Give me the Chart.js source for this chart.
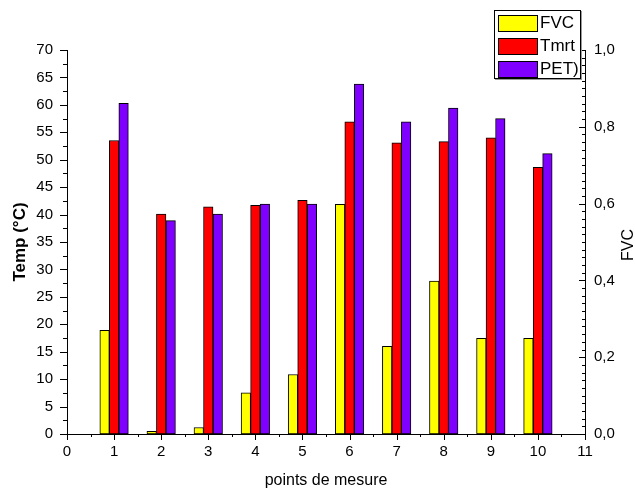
<!DOCTYPE html>
<html>
<head>
<meta charset="utf-8">
<script src="https://cdn.jsdelivr.net/npm/chart.js@4/dist/chart.umd.min.js"></script>
<style>
  html, body { margin: 0; padding: 0; background: #fff; }
  #wrap { position: relative; width: 635px; height: 491px; }
  canvas { display: block; }
  #legend {
    position: absolute; left: 494px; top: 10px; width: 85px; height: 67px;
    border: 1px solid #000; box-shadow: 1px 1px 0 #999; background: #fff;
    font: 17px "Liberation Sans", Arial, sans-serif; color: #000; overflow: hidden;
  }
  #legend .row { display: flex; align-items: center; height: 22px; margin-top: 1px; }
  #legend .sw { width: 38px; height: 15px; border: 1px solid #000; margin: 0 2px 0 3px; }
  #fvc-title {
    position: absolute; left: 628px; top: 245px; transform: translate(-50%, -50%) rotate(-90deg);
    font: 16px "Liberation Sans", Arial, sans-serif; color: #000; white-space: nowrap;
  }
</style>
</head>
<body>
<div id="wrap">
  <canvas id="c" width="635" height="491"></canvas>
  <div id="legend"></div>
  <div id="fvc-title">FVC</div>
</div>
<script>
// axis positions 0..11, measure points 1..10
const xLabels = ["0", "1", "2", "3", "4", "5", "6", "7", "8", "9", "10", "11"];
const points = [1, 2, 3, 4, 5, 6, 7, 8, 9, 10];
const fvc  = [0.270, 0.007, 0.017, 0.107, 0.155, 0.598, 0.228, 0.398, 0.249, 0.249];
const tmrt = [53.5, 40.1, 41.4, 41.7, 42.6, 56.9, 53.1, 53.3, 54.0, 48.6];
const pet  = [60.3, 38.9, 40.1, 41.9, 41.9, 63.8, 56.9, 59.4, 57.5, 51.1];

const FONT = "'Liberation Sans', Arial, sans-serif";

// spread a series over the 0..11 axis, nothing at 0 and 11
const toAxis = vals => xLabels.map(l => {
  const i = points.indexOf(Number(l));
  return i < 0 ? null : vals[i];
});

// Origin-style tick marks (major + minor)
const tickMarks = {
  id: "tickMarks",
  afterDraw(chart) {
    const { ctx, scales: { x, y, y1 } } = chart;
    ctx.save();
    ctx.strokeStyle = "#000";
    ctx.lineWidth = 1;
    ctx.beginPath();
    for (let i = 0; i <= 28; i++) {
      const py = Math.round(y.getPixelForValue(i * 2.5)) + 0.5;
      const len = i % 2 === 0 ? 7 : 4;
      ctx.moveTo(y.right - len, py); ctx.lineTo(y.right, py);
    }
    for (let i = 0; i <= 22; i++) {
      const px = Math.round(x.getPixelForValue(i / 2)) + 0.5;
      const len = i % 2 === 0 ? 6 : 3;
      ctx.moveTo(px, x.top); ctx.lineTo(px, x.top + len);
    }
    for (let i = 0; i <= 50; i++) {
      const py = Math.round(y1.getPixelForValue(i / 50)) + 0.5;
      const len = i % 10 === 0 ? 6 : 3;
      ctx.moveTo(y1.left - len, py); ctx.lineTo(y1.left, py);
    }
    ctx.stroke();
    ctx.restore();
  }
};

const chart = new Chart(document.getElementById("c"), {
  type: "bar",
  data: {
    labels: xLabels,
    datasets: [
      { label: "FVC", data: toAxis(fvc), yAxisID: "y1", backgroundColor: "#ffff00" },
      { label: "Tmrt", data: toAxis(tmrt), yAxisID: "y", backgroundColor: "#ff0000" },
      { label: "PET)", data: toAxis(pet), yAxisID: "y", backgroundColor: "#8000ff" },
    ],
  },
  options: {
    responsive: false,
    animation: false,
    devicePixelRatio: 1,
    layout: { padding: { top: 50, left: 0, right: 0, bottom: 0 } },
    datasets: { bar: { barThickness: 9.5, borderColor: "#000", borderWidth: 1, borderSkipped: false } },
    plugins: { legend: { display: false }, tooltip: { enabled: false } },
    scales: {
      x: {
        type: "category",
        offset: false,
        grid: { display: false, drawTicks: false },
        border: { display: true, color: "#000", width: 1 },
        ticks: { color: "#000", font: { family: FONT, size: 15 }, padding: 9, autoSkip: false, maxRotation: 0 },
        title: { display: true, text: "points de mesure", color: "#000", font: { family: FONT, size: 16 }, padding: { top: 0, bottom: 1 } },
        afterFit: s => { s.height = 57; },
      },
      y: {
        position: "left", min: 0, max: 70,
        grid: { display: false, drawTicks: false },
        border: { display: true, color: "#000", width: 1 },
        ticks: { stepSize: 5, color: "#000", font: { family: FONT, size: 15 }, padding: 14 },
        title: { display: true, text: "Temp (°C)", color: "#000", font: { family: FONT, size: 17, weight: "bold" }, padding: { top: 10, bottom: 0 } },
        afterFit: s => { s.width = 67; },
      },
      y1: {
        position: "right", min: 0, max: 1,
        grid: { display: false, drawTicks: false },
        border: { display: true, color: "#000", width: 1 },
        ticks: { stepSize: 0.2, color: "#000", font: { family: FONT, size: 15 }, padding: 9,
                 callback: v => v.toFixed(1).replace(".", ",") },
        afterFit: s => { s.width = 50; },
      },
    },
  },
  plugins: [tickMarks],
});

// legend box drawn as html, overlapping the plot like the original
const legend = document.getElementById("legend");
chart.data.datasets.forEach(ds => {
  const row = document.createElement("div");
  row.className = "row";
  row.innerHTML = `<span class="sw" style="background:${ds.backgroundColor}"></span><span>${ds.label}</span>`;
  legend.appendChild(row);
});
</script>
</body>
</html>
